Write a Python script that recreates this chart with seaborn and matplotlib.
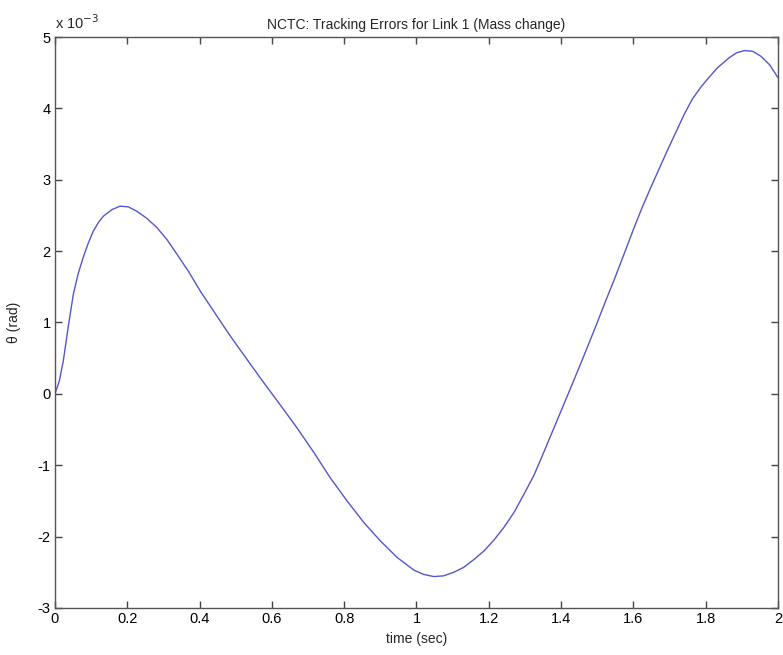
import matplotlib
matplotlib.use("Agg")
import matplotlib.pyplot as plt
import seaborn as sns
import pandas as pd

time_sec = [0.0, 0.012, 0.023, 0.037, 0.051, 0.064, 0.078, 0.092, 0.106, 0.12, 0.134, 0.157, 0.18,
            0.203, 0.226, 0.254, 0.282, 0.31, 0.337, 0.37, 0.402, 0.444, 0.485, 0.54, 0.577,
            0.624, 0.670, 0.716, 0.762, 0.808, 0.854, 0.900, 0.946, 0.993, 1.020, 1.048,
            1.075, 1.103, 1.131, 1.159, 1.187, 1.214, 1.242, 1.27, 1.298, 1.325, 1.352,
            1.380, 1.404, 1.427, 1.45, 1.474, 1.497, 1.520, 1.547, 1.575, 1.602, 1.625,
            1.648, 1.671, 1.694, 1.717, 1.740, 1.763, 1.787, 1.810, 1.833, 1.865, 1.886,
            1.907, 1.930, 1.953, 1.977, 2.0]
theta_e3 = [0.0, 0.18, 0.46, 0.95, 1.40, 1.68, 1.91, 2.11, 2.28, 2.40, 2.49, 2.58, 2.63,
            2.62, 2.56, 2.46, 2.33, 2.16, 1.96, 1.71, 1.44, 1.12, 0.81, 0.42, 0.16,
            -0.16, -0.48, -0.82, -1.18, -1.50, -1.80, -2.06, -2.29, -2.47, -2.53, -2.56,
            -2.55, -2.50, -2.43, -2.32, -2.20, -2.05, -1.87, -1.66, -1.40, -1.14, -0.82,
            -0.48, -0.19, 0.09, 0.37, 0.67, 0.96, 1.26, 1.60, 1.97, 2.33, 2.62,
            2.89, 3.15, 3.41, 3.66, 3.91, 4.13, 4.30, 4.44, 4.57, 4.71, 4.78,
            4.81, 4.80, 4.73, 4.61, 4.43]

xticks = [0, 0.2, 0.4, 0.6, 0.8, 1.0, 1.2, 1.4, 1.6, 1.8, 2.0]
xtick_labels = ["0", "0.2", "0.4", "0.6", "0.8", "1", "1.2", "1.4", "1.6", "1.8", "2"]
yticks = [-3, -2, -1, 0, 1, 2, 3, 4, 5]
ytick_labels = ["-3", "-2", "-1", "0", "1", "2", "3", "4", "5"]

title = "NCTC: Tracking Errors for Link 1 (Mass change)"
xlabel = "time (sec)"
ylabel = "\u03b8 (rad)"

sns.set_style("ticks")
plt.rcParams["font.family"] = ["Liberation Sans", "DejaVu Sans"]

df = pd.DataFrame({"t": time_sec, "theta": theta_e3})

fig = plt.figure(figsize=(7.83, 6.55), dpi=100)
ax = fig.add_axes([0.0702, 0.0718, 0.9234, 0.8717])
sns.lineplot(data=df, x="t", y="theta", ax=ax, color="#5555cc", linewidth=1.0,
             sort=False, estimator=None)

ax.set_xlim(0, 2)
ax.set_ylim(-3, 5)
ax.set_xticks(xticks)
ax.set_xticklabels(xtick_labels)
ax.set_yticks(yticks)
ax.set_yticklabels(ytick_labels)
ax.tick_params(direction="in", length=5, width=1, colors="#444444",
               labelcolor="black", labelsize=10.5, top=True, right=True, pad=3)
for s in ax.spines.values():
    s.set_visible(True)
    s.set_color("#555555")
    s.set_linewidth(1.0)

ax.set_title(title, fontsize=10, pad=6)
ax.set_xlabel(xlabel, fontsize=10, labelpad=4)
ax.set_ylabel(ylabel, fontsize=10, labelpad=12)
ax.text(0.0, 1.008, r"x 10$^{-3}$", transform=ax.transAxes, fontsize=10.5,
        ha="left", va="bottom")

fig.savefig("out.png", dpi=100)
